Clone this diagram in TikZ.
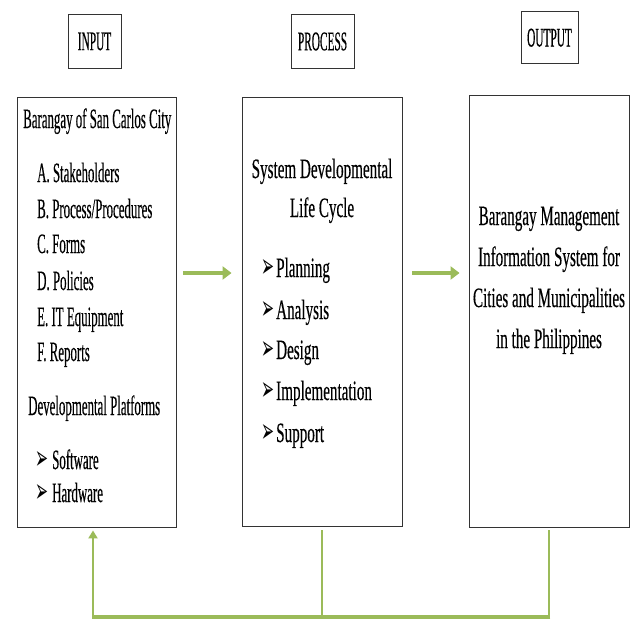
\documentclass[tikz,border=0pt]{standalone}
\usepackage{fontspec}
\usepackage{graphicx}
\setmainfont{Liberation Serif}[FakeStretch=0.54,FakeBold=0.3]
\newfontfamily\leftfont{Liberation Serif}[FakeStretch=0.46,FakeBold=0.3]
\newfontfamily\hdrfont{Liberation Serif}[FakeStretch=0.42,FakeBold=0.3]
\newfontfamily\symfont{DejaVu Sans}
\usetikzlibrary{arrows.meta}
\definecolor{fbgreen}{HTML}{9BBB59}
\newcommand{\arrbul}{\resizebox{13pt}{18pt}{\symfont ➢}}
\tikzset{
  box/.style={draw=black!80, line width=0.9pt, inner sep=0pt, fill=white},
  hdr/.style={box, font=\hdrfont\fontsize{27}{27}\selectfont},
  ltxt/.style={inner sep=0pt, anchor=base west, font=\leftfont\fontsize{28}{28}\selectfont},
  ctxt/.style={inner sep=0pt, anchor=base, font=\fontsize{28}{28}\selectfont},
  mtxt/.style={inner sep=0pt, anchor=base west, font=\fontsize{28}{28}\selectfont},
  bul/.style={inner sep=0pt, anchor=base west},
  garrow/.style={draw=fbgreen, line width=3.5pt, -{Triangle[length=9pt,width=13pt]}},
  fbline/.style={draw=fbgreen, line width=2.6pt},
  fbarrow/.style={draw=fbgreen, line width=2.6pt, -{Triangle[length=8pt,width=9pt]}}
}
\begin{document}
\begin{tikzpicture}[x=1pt,y=-1pt]
\useasboundingbox (0,0) rectangle (632,621);
% headers
\node[hdr, minimum width=53pt, minimum height=54pt] (hin) at (94.5,41.5) {INPUT};
\node[hdr, minimum width=63pt, minimum height=54pt] (hproc) at (322.5,41.5) {PROCESS};
\node[hdr, minimum width=57pt, minimum height=52pt] (hout) at (549.5,37.7) {OUTPUT};
% main boxes
\node[box, minimum width=159pt, minimum height=430pt] (inbox) at (96.5,312) {};
\node[box, minimum width=160pt, minimum height=429pt] (procbox) at (322,311.5) {};
\node[box, minimum width=160pt, minimum height=432pt] (outbox) at (549,311) {};
% input text
\node[ltxt] (i0) at (23,128) {Barangay of San Carlos City};
\node[ltxt] (i1) at (37,182) {A. Stakeholders};
\node[ltxt] (i2) at (37,218) {B. Process/Procedures};
\node[ltxt] (i3) at (37,253) {C. Forms};
\node[ltxt] (i4) at (37,290) {D. Policies};
\node[ltxt] (i5) at (37,326) {E. IT Equipment};
\node[ltxt] (i6) at (37,361) {F. Reports};
\node[ltxt] (i7) at (28,415) {Developmental Platforms};
\node[bul] (ib1) at (35,469) {\arrbul};
\node[ltxt] (i8) at (52,469) {Software};
\node[bul] (ib2) at (35,502) {\arrbul};
\node[ltxt] (i9) at (52,502) {Hardware};
% process text
\node[ctxt] (p0) at (322,178) {System Developmental};
\node[ctxt] (p1) at (322,217) {Life Cycle};
\node[bul] (pb1) at (261,277) {\arrbul};
\node[mtxt] (p2) at (276,277) {Planning};
\node[bul] (pb2) at (261,319) {\arrbul};
\node[mtxt] (p3) at (276,319) {Analysis};
\node[bul] (pb3) at (261,359) {\arrbul};
\node[mtxt] (p4) at (276,359) {Design};
\node[bul] (pb4) at (261,400) {\arrbul};
\node[mtxt] (p5) at (276,400) {Implementation};
\node[bul] (pb5) at (261,442) {\arrbul};
\node[mtxt] (p6) at (276,442) {Support};
% output text
\node[ctxt] (o0) at (549,225) {Barangay Management};
\node[ctxt] (o1) at (549,266) {Information System for};
\node[ctxt] (o2) at (549,307) {Cities and Municipalities};
\node[ctxt] (o3) at (549,348) {in the Philippines};
% forward arrows
\coordinate (ay) at (0,273);
\draw[garrow, shorten <=7pt, shorten >=10pt] (inbox.east |- ay) -- (procbox.west |- ay);
\draw[garrow, shorten <=10pt, shorten >=9pt] (procbox.east |- ay) -- (outbox.west |- ay);
% feedback
\coordinate (fb) at (0,617);
\coordinate (inx) at ([xshift=-3.5pt]inbox.south);
\draw[fbline] ([yshift=-4pt]procbox.south) -- (procbox.south |- fb);
\draw[fbline] ([yshift=-3pt]outbox.south) -- (outbox.south |- fb);
\draw[draw=fbgreen, line width=4pt] ([xshift=1.3pt]outbox.south |- fb) -- ([xshift=-1.3pt]inx |- fb);
\draw[fbarrow] (inx |- fb) -- ([yshift=-3pt]inx);
\end{tikzpicture}
\end{document}
